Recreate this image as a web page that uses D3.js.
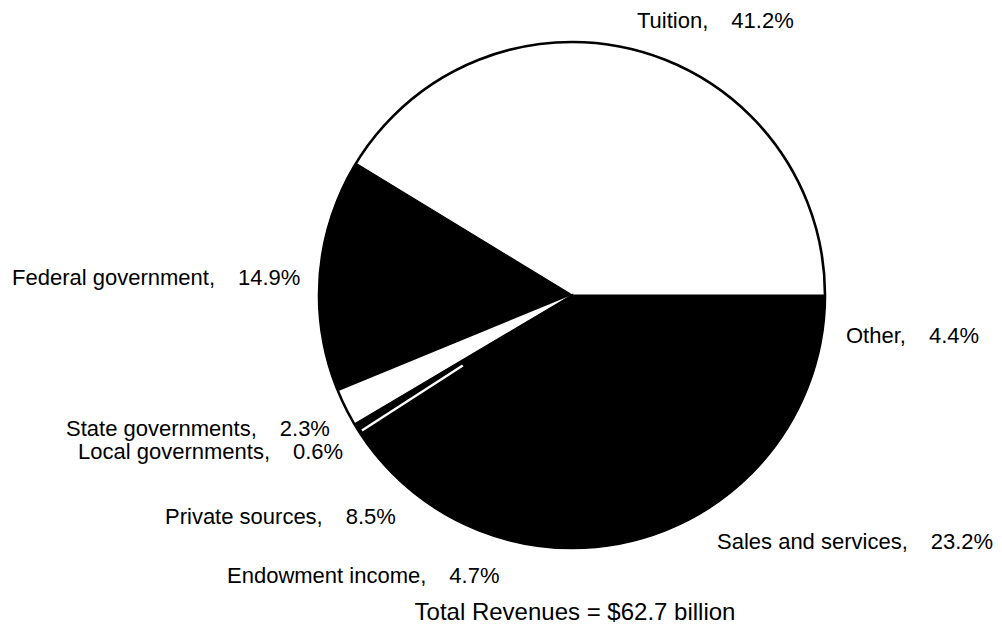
<!DOCTYPE html>
<html><head><meta charset="utf-8">
<script src="https://cdn.jsdelivr.net/npm/d3@7"></script>
<style>
body{margin:0;background:#fff}
text{font-family:"Liberation Sans",Arial,Helvetica,sans-serif;font-size:22px;fill:#000}
</style>
</head><body>
<svg id="chart" width="1002" height="630"></svg>
<script>
// ---- data ----
const categories = ["Tuition","Federal government","State governments","Local governments","Private sources","Endowment income","Sales and services","Other"];
const shares = [41.2, 14.9, 2.3, 0.6, 8.5, 4.7, 23.2, 4.4];
const valueLabels = ["41.2%","14.9%","2.3%","0.6%","8.5%","4.7%","23.2%","4.4%"];
const totalLabel = "Total Revenues = $62.7 billion";

// ---- layout / style (not data) ----
const fills = ["#ffffff","#000000","#ffffff","#000000","#000000","#000000","#000000","#000000"];
const labelAnchors = [[637,28],[12,285],[66,436],[78,459],[165,524],[227,583],[717,549],[846,343]];
const cx = 572, cy = 295, R = 253;

const svg = d3.select("#chart");
const g = svg.append("g").attr("transform", `translate(${cx},${cy})`);

const pie = d3.pie().sort(null)
  .startAngle(Math.PI/2).endAngle(Math.PI/2 - 2*Math.PI)
  .value(d => d);
const arcs = pie(shares);
const arc = d3.arc().innerRadius(0).outerRadius(R);

g.selectAll("path.slice").data(arcs).enter().append("path")
  .attr("class","slice")
  .attr("d", arc)
  .attr("fill", (d,i) => fills[i])
  .attr("stroke", (d,i) => fills[i] === "#000000" ? "#000" : "none")
  .attr("stroke-width", 1.2);

// thin white separator between Local governments and Private sources
const sepA = arcs[3].endAngle;
g.append("line")
  .attr("x1", Math.sin(sepA)*130).attr("y1", -Math.cos(sepA)*130)
  .attr("x2", Math.sin(sepA)*(R-3)).attr("y2", -Math.cos(sepA)*(R-3))
  .attr("stroke","#fff").attr("stroke-width",2.4);

// outline
g.append("circle").attr("r", R).attr("fill","none").attr("stroke","#000").attr("stroke-width",2.6);

// labels
const lab = svg.selectAll("text.lab").data(categories).enter().append("text")
  .attr("class","lab")
  .attr("x", (d,i) => labelAnchors[i][0])
  .attr("y", (d,i) => labelAnchors[i][1]);
lab.append("tspan").text(d => d + ",");
lab.append("tspan").attr("dx", 23).text((d,i) => valueLabels[i]);

svg.append("text").attr("x", 575).attr("y", 620).attr("text-anchor","middle")
  .style("font-size","24px").text(totalLabel);
</script>
</body></html>
